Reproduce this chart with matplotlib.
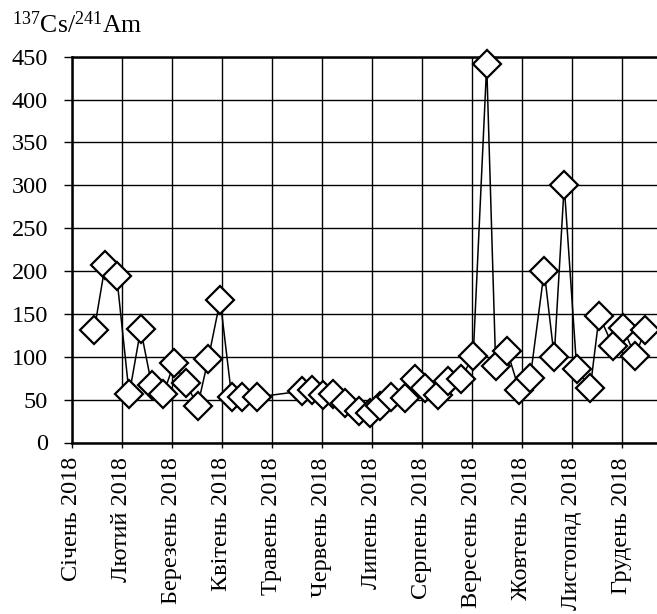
import matplotlib
matplotlib.use("Agg")
import matplotlib.pyplot as plt

plt.rcParams['font.family'] = ['Liberation Serif', 'DejaVu Serif']
plt.rcParams['mathtext.fontset'] = 'custom'
plt.rcParams['mathtext.rm'] = 'Liberation Serif'
plt.rcParams['mathtext.default'] = 'regular'

# month labels (tick at start of each month)
month_labels = ['Січень 2018', 'Лютий 2018', 'Березень 2018', 'Квітень 2018',
                'Травень 2018', 'Червень 2018', 'Липень 2018', 'Серпень 2018',
                'Вересень 2018', 'Жовтень 2018', 'Листопад 2018', 'Грудень 2018']

# sample position in months since 1 Jan 2018
month_pos = [0.45, 0.67, 0.90, 1.15, 1.38, 1.60, 1.83, 2.05, 2.28, 2.52,
             2.73, 2.97, 3.20, 3.41, 3.71, 4.61, 4.81, 5.03, 5.23, 5.47,
             5.75, 5.97, 6.17, 6.38, 6.67, 6.87, 7.07, 7.33, 7.53, 7.78,
             8.03, 8.30, 8.48, 8.71, 8.95, 9.17, 9.45, 9.65, 9.85, 10.10,
             10.37, 10.55, 10.82, 11.03, 11.27, 11.47]

# 137Cs/241Am activity ratio
ratio = [131, 207, 194, 56, 132, 67, 56, 93, 69, 43,
         97, 166, 53, 53, 53, 60, 61, 55, 57, 46,
         37, 34, 43, 53, 52, 74, 64, 55, 72, 74,
         101, 441, 89, 107, 61, 75, 200, 100, 300, 86,
         63, 148, 113, 133, 101, 131]

y_ticks = [0, 50, 100, 150, 200, 250, 300, 350, 400, 450]

W, H = 657, 614
fig = plt.figure(figsize=(W / 100, H / 100), dpi=100)
left_px, right_px, top_px, bottom_px = 71.7, 657, 56.7, 442.5
ax = fig.add_axes([left_px / W, (H - bottom_px) / H,
                   (right_px - left_px) / W, (bottom_px - top_px) / H])

ax.plot(month_pos, ratio, color='black', lw=1.1, marker='D', ms=14,
        mfc='white', mec='black', mew=1.6, clip_on=False, zorder=3)

ax.set_xlim(0, (right_px - left_px) / 50.0)
ax.set_ylim(0, 450)
ax.set_yticks(y_ticks)
ax.set_xticks(range(len(month_labels)))
ax.set_xticklabels(month_labels, rotation=90, va='top', ha='center')

ax.grid(True, color='black', lw=1.0, zorder=0)
ax.set_axisbelow(True)
for s in ['left', 'bottom', 'top']:
    ax.spines[s].set_linewidth(1.8)
    ax.spines[s].set_color('black')
ax.spines['right'].set_visible(False)

ax.tick_params(axis='y', direction='out', length=6, width=1.0, pad=11,
               labelsize=17.5, colors='black')
ax.tick_params(axis='x', direction='out', length=3.6, width=1.0, pad=7,
               labelsize=17.5, colors='black')

fig.text(12 / W, 1 - 33 / H, r'$^{137}$Cs/$^{241}$Am', fontsize=18.5,
         ha='left', va='baseline')

fig.savefig('out.png', dpi=100)
